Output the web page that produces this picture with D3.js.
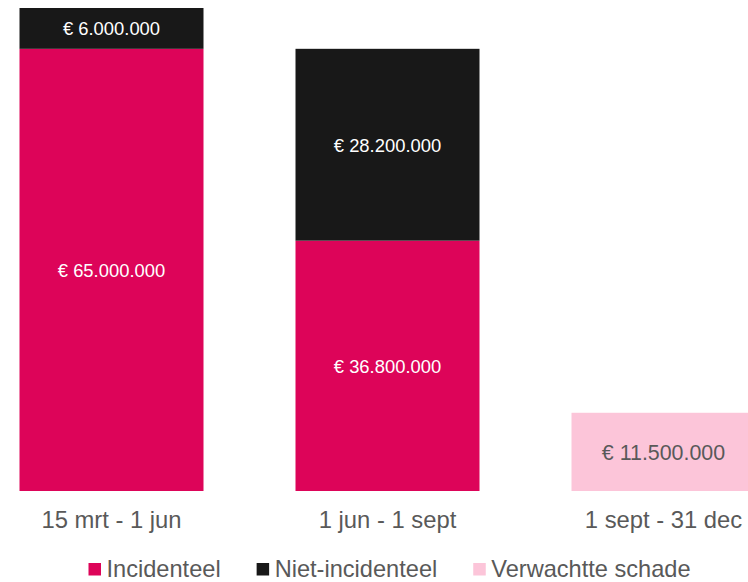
<!DOCTYPE html>
<html>
<head>
<meta charset="utf-8">
<script src="https://cdn.jsdelivr.net/npm/d3@7"></script>
<style>
  html, body { margin: 0; padding: 0; background: #fff; }
  svg { display: block; font-family: "Liberation Sans", Arial, sans-serif; }
</style>
</head>
<body>
<div id="here"></div>
<script>
  var w = 748, h = 582;

  // data
  var periods = ['15 mrt - 1 jun', '1 jun - 1 sept', '1 sept - 31 dec'];
  var incidenteel = [65000000, 36800000, 0];
  var nietIncidenteel = [6000000, 28200000, 0];
  var verwachtteSchade = [0, 0, 11500000];
  var seriesNames = ['Incidenteel', 'Niet-incidenteel', 'Verwachtte schade'];
  var seriesColors = ['#dd0459', '#181818', '#fcc5d9'];
  var labelColors = ['#ffffff', '#ffffff', '#595959'];
  var labelSizes = [18.4, 18.4, 21.4];

  var rows = periods.map(function(p, i) {
    return {period: p, Incidenteel: incidenteel[i], 'Niet-incidenteel': nietIncidenteel[i], 'Verwachtte schade': verwachtteSchade[i]};
  });

  var x = d3.scaleBand().domain(periods).range([19.5, 755.5]).paddingInner(1 / 3).paddingOuter(0);
  var y = d3.scaleLinear().domain([0, 71000000]).range([491, 8]);

  var stack = d3.stack().keys(seriesNames);
  var layers = stack(rows);

  var fmt = d3.formatLocale({decimal: ',', thousands: '.', grouping: [3], currency: ['€ ', '']}).format('$,.0f');

  var svg = d3.select('#here').append('svg')
    .attr('width', w)
    .attr('height', h);

  var layer = svg.selectAll('.layer')
    .data(layers)
    .enter().append('g')
    .attr('class', 'layer')
    .attr('fill', function(d, i) { return seriesColors[i]; });

  var cells = layer.selectAll('g')
    .data(function(d, i) {
      return d.map(function(v) { return {v: v, s: i}; }).filter(function(o) { return o.v[1] - o.v[0] > 0; });
    })
    .enter().append('g');

  cells.append('rect')
    .attr('x', function(d) { return x(d.v.data.period); })
    .attr('width', x.bandwidth())
    .attr('y', function(d) { return y(d.v[1]); })
    .attr('height', function(d) { return y(d.v[0]) - y(d.v[1]); });

  cells.append('text')
    .attr('x', function(d) { return x(d.v.data.period) + x.bandwidth() / 2; })
    .attr('y', function(d) { return (y(d.v[0]) + y(d.v[1])) / 2; })
    .attr('dy', '0.37em')
    .attr('text-anchor', 'middle')
    .attr('fill', function(d) { return labelColors[d.s]; })
    .style('font-size', function(d) { return labelSizes[d.s] + 'px'; })
    .text(function(d) { return fmt(d.v[1] - d.v[0]); });

  // category labels
  svg.append('g').selectAll('text')
    .data(periods)
    .enter().append('text')
    .attr('x', function(d) { return x(d) + x.bandwidth() / 2; })
    .attr('y', 528)
    .attr('text-anchor', 'middle')
    .attr('fill', '#595959')
    .style('font-size', '23.8px')
    .text(function(d) { return d; });

  // legend
  var legend = svg.append('g');
  var lx = 88.5;
  seriesNames.forEach(function(name, i) {
    legend.append('rect')
      .attr('x', lx).attr('y', 563)
      .attr('width', 12.5).attr('height', 12.5)
      .attr('fill', seriesColors[i]);
    var t = legend.append('text')
      .attr('x', lx + 18).attr('y', 577)
      .attr('fill', '#595959')
      .style('font-size', '23.6px')
      .text(name);
    lx += 18 + t.node().getComputedTextLength() + 36;
  });
</script>
</body>
</html>
